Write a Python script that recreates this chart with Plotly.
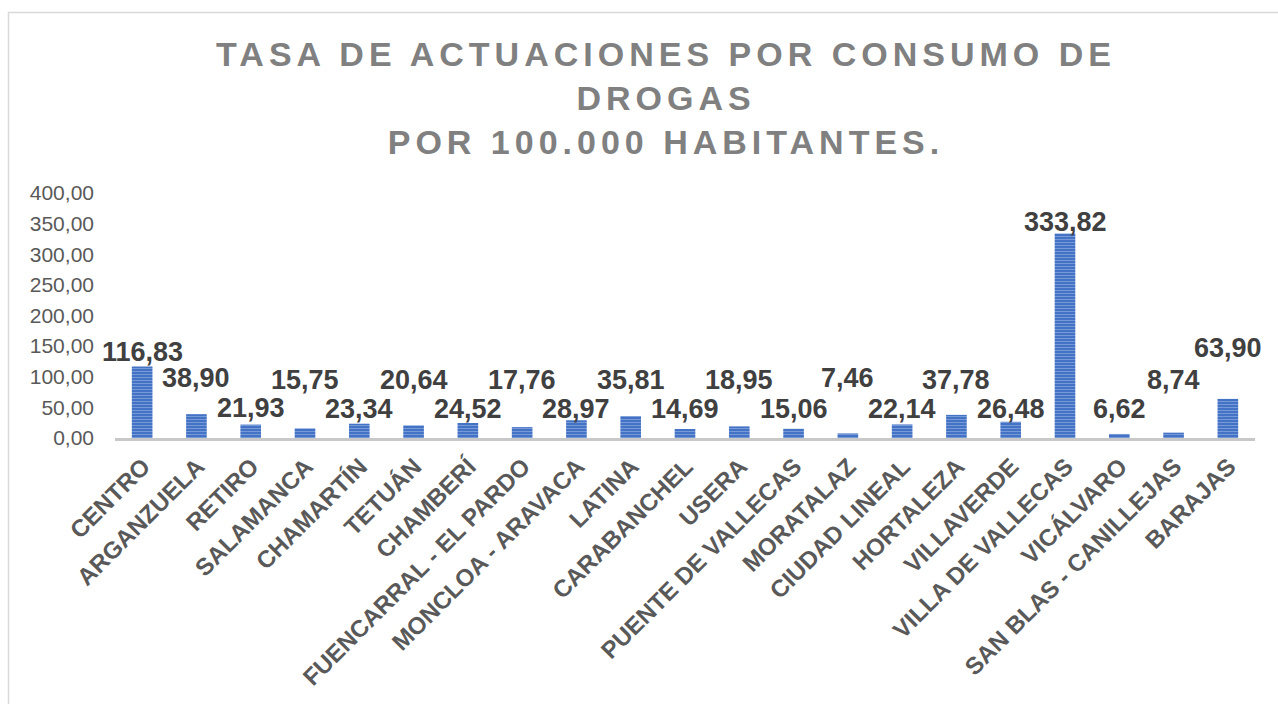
import plotly.graph_objects as go

districts = ["CENTRO", "ARGANZUELA", "RETIRO", "SALAMANCA", "CHAMARTÍN", "TETUÁN",
             "CHAMBERÍ", "FUENCARRAL - EL PARDO", "MONCLOA - ARAVACA", "LATINA",
             "CARABANCHEL", "USERA", "PUENTE DE VALLECAS", "MORATALAZ", "CIUDAD LINEAL",
             "HORTALEZA", "VILLAVERDE", "VILLA DE VALLECAS", "VICÁLVARO",
             "SAN BLAS - CANILLEJAS", "BARAJAS"]
rates = [116.83, 38.90, 21.93, 15.75, 23.34, 20.64, 24.52, 17.76, 28.97, 35.81,
         14.69, 18.95, 15.06, 7.46, 22.14, 37.78, 26.48, 333.82, 6.62, 8.74, 63.90]
y_ticks = [0, 50, 100, 150, 200, 250, 300, 350, 400]

# pixel offsets of each data label above its bar top (manual placement as in reference)
label_shift = [14, 36, 17, 48, 15, 45, 14, 47, 11, 36, 20, 46, 20, 55, 15, 35, 13, 12, 25, 53, 51]

W, H = 1278, 704
ML, MR, MT, MB = 115, 23, 193, 266
pw = W - ML - MR
ph = H - MT - MB


def px_x(x):
    return (x - ML) / pw


def px_y(y):
    return 1 - (y - MT) / ph


fig = go.Figure()
fig.add_trace(go.Bar(
    x=districts, y=rates,
    marker=dict(color="#4472C4", line=dict(width=0),
                pattern=dict(shape="-", fgcolor="#a8c0ea", bgcolor="#4472C4",
                             size=3, solidity=0.35)),
    hoverinfo="x+y",
))

for d, v, s in zip(districts, rates, label_shift):
    fig.add_annotation(
        x=d, y=v, xref="x", yref="y", yanchor="middle", xanchor="center",
        yshift=s, showarrow=False,
        text=f"{v:.2f}".replace(".", ","),
        font=dict(family="Arial, Liberation Sans", size=27, color="#404040", weight="bold"),
    )

fig.add_shape(type="rect", xref="paper", yref="paper",
              x0=px_x(8.5), x1=px_x(W + 20),
              y0=px_y(H + 20), y1=px_y(12.5),
              line=dict(color="#d9d9d9", width=1.5), fillcolor="rgba(0,0,0,0)", layer="below")

fig.update_layout(
    width=W, height=H,
    margin=dict(l=ML, r=MR, t=MT, b=MB, autoexpand=False),
    paper_bgcolor="white", plot_bgcolor="white",
    separators=",.",
    bargap=0.62,
    showlegend=False,
    title=dict(
        text="TASA DE ACTUACIONES POR CONSUMO DE<br>DROGAS<br>POR 100.000 HABITANTES.",
        x=666 / W, xanchor="center", xref="container",
        y=1 - 66 / H, yanchor="top", yref="container",
        font=dict(family="Arial, Liberation Sans", size=34, color="#808080", weight="bold"),
    ),
    xaxis=dict(
        type="category", range=[-0.5, len(districts) - 0.5],
        showgrid=False, showline=True, linecolor="#c8c8c8", linewidth=3,
        ticks="", tickangle=-45, automargin=False, ticklabelshift=1, ticklabelstandoff=2,
        tickfont=dict(family="Arial, Liberation Sans", size=24, color="#595959", weight="bold"),
    ),
    yaxis=dict(
        range=[0, 400], tickvals=y_ticks, tickformat=".2f", showgrid=False,
        showline=False, zeroline=False, ticks="", automargin=False, ticklabelstandoff=20,
        tickfont=dict(family="Arial, Liberation Sans", size=21, color="#595959"),
    ),
)

post = """
document.body.style.margin='0';
var st=document.createElement('style');
st.innerHTML='.gtitle{letter-spacing:5px;}';
document.head.appendChild(st);
"""
fig.write_html("out.html", post_script=post, config={"displayModeBar": False})
